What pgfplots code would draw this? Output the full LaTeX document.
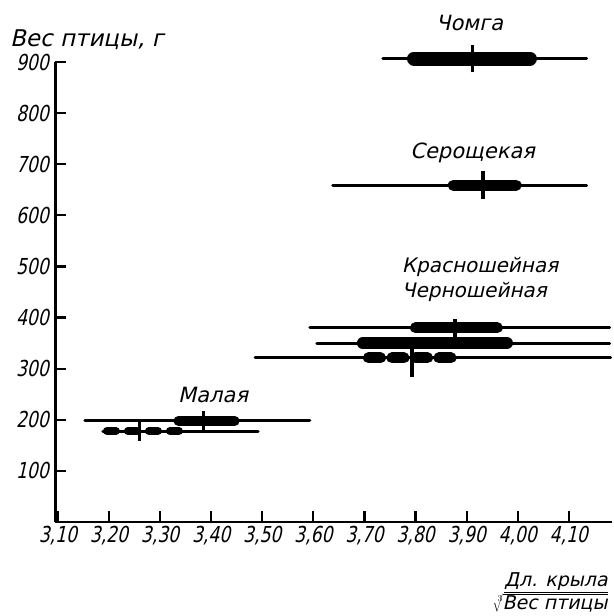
\documentclass[border=0pt]{standalone}
\usepackage{fontspec}
\setmainfont{DejaVu Sans}[FakeSlant=0.22]
\newfontfamily\tickfont{DejaVu Sans}[FakeSlant=0.22, FakeStretch=0.78]
\usepackage{pgfplots}
\pgfplotsset{compat=1.18}
\begin{document}
\begin{tikzpicture}
\begin{axis}[
  scale only axis, width=557pt, height=460pt,
  xmin=3.095, xmax=4.185, ymin=0, ymax=900,
  axis x line=bottom, axis y line=left,
  axis line style={-, line width=2.6pt, black},
  xtick={3.1,3.2,3.3,3.4,3.5,3.6,3.7,3.8,3.9,4.0,4.1},
  xticklabels={{3,10},{3,20},{3,30},{3,40},{3,50},{3,60},{3,70},{3,80},{3,90},{4,00},{4,10}},
  ytick={100,200,300,400,500,600,700,800,900},
  yticklabels={100,200,300,400,500,600,700,800,900},
  tick align=inside, major tick length=11pt,
  tick style={line width=2.2pt, black},
  ticklabel style={font=\tickfont\fontsize{22}{24}\selectfont},
  xticklabel style={yshift=-1pt},
  yticklabel style={xshift=-3pt},
  clip=false,
  thinl/.style={black, line width=3pt, line cap=round},
  thickl/.style={black, line cap=round},
  meanl/.style={black, line width=3.5pt},
]
% Chomga
\addplot[thinl] coordinates {(3.736,907) (4.135,907)};
\addplot[thickl, line width=14pt] coordinates {(3.797,907) (4.024,907)};
\addplot[meanl] coordinates {(3.912,880) (3.912,934)};
% Seroshchekaya
\addplot[thinl] coordinates {(3.638,659) (4.135,659)};
\addplot[thickl, line width=11pt] coordinates {(3.874,659) (3.997,659)};
\addplot[meanl] coordinates {(3.932,632) (3.932,686)};
% Krasnosheinaya / Chernosheinaya
\addplot[thinl] coordinates {(3.593,380) (4.180,380)};
\addplot[thickl, line width=11pt] coordinates {(3.800,380) (3.960,380)};
\addplot[meanl] coordinates {(3.877,362) (3.877,398)};
\addplot[thinl] coordinates {(3.607,350) (4.180,350)};
\addplot[thickl, line width=12pt] coordinates {(3.697,350) (3.979,350)};
\addplot[thinl] coordinates {(3.486,321) (4.182,321)};
\addplot[black, line width=11pt, line cap=round, dash pattern=on 12pt off 11.5pt] coordinates {(3.708,321) (3.877,321)};
\addplot[meanl] coordinates {(3.793,284) (3.793,358)};
% Malaya
\addplot[thinl] coordinates {(3.153,198) (3.593,198)};
\addplot[thickl, line width=10pt] coordinates {(3.336,198) (3.446,198)};
\addplot[meanl] coordinates {(3.385,178) (3.385,218)};
\addplot[thinl] coordinates {(3.188,178) (3.492,178)};
\addplot[black, line width=8pt, line cap=round, dash pattern=on 9pt off 12pt] coordinates {(3.196,178) (3.352,178)};
\addplot[meanl] coordinates {(3.260,158) (3.260,198)};
% labels
\node[font=\fontsize{21}{23}\selectfont] at (axis cs:3.906,976) {Чомга};
\node[font=\fontsize{21}{23}\selectfont] at (axis cs:3.912,722) {Серощекая};
\node[font=\fontsize{20}{22}\selectfont, anchor=west, inner sep=0pt] at (axis cs:3.773,499) {Красношейная};
\node[font=\fontsize{20}{22}\selectfont, anchor=west, inner sep=0pt] at (axis cs:3.773,450) {Черношейная};
\node[font=\fontsize{21}{23}\selectfont] at (axis cs:3.404,248) {Малая};
\node[font=\fontsize{23}{25}\selectfont, anchor=west, inner sep=0pt] at (axis cs:3.0063,943) {Вес птицы, г};
\node[font=\fontsize{19}{21}\selectfont, anchor=east, inner sep=0pt, align=right] at (axis cs:4.1765,-138)
  {\underline{Дл. крыла}\\[0pt] $\sqrt[3]{\mbox{Вес птицы}}$};
\path (axis cs:2.9867,-184) (axis cs:4.1883,1021.5);
\end{axis}
\end{tikzpicture}
\end{document}
